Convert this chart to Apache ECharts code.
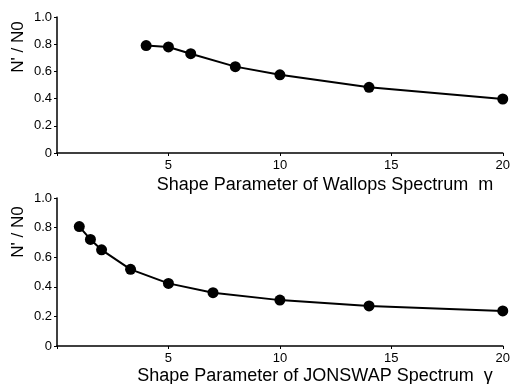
<!DOCTYPE html>
<html>
<head>
<meta charset="utf-8">
<script src="https://cdn.jsdelivr.net/npm/echarts@6/dist/echarts.min.js"></script>
<style>
html, body { margin: 0; padding: 0; background: #fff; }
#main { width: 513px; height: 384px; }
</style>
</head>
<body>
<div id="main"></div>
<script>
// Wallops spectrum shape parameter m
var wallopsM = [4, 5, 6, 8, 10, 14, 20];
var wallopsN = [0.79, 0.78, 0.73, 0.635, 0.575, 0.483, 0.397];
// JONSWAP spectrum peak enhancement gamma
var jonswapGamma = [1, 1.5, 2, 3.3, 5, 7, 10, 14, 20];
var jonswapN = [0.807, 0.72, 0.65, 0.518, 0.423, 0.36, 0.31, 0.271, 0.237];

var xTicks = [0, 5, 10, 15, 20];
var yTicks = [0, 0.2, 0.4, 0.6, 0.8, 1.0];

var font = 'Liberation Sans, Arial, sans-serif';

function pairs(xs, ys) {
	var out = [];
	for (var i = 0; i < xs.length; i++) out.push([xs[i], ys[i]]);
	return out;
}

function xAxisFor(idx) {
	return {
		type: 'value', gridIndex: idx,
		min: xTicks[0], max: xTicks[xTicks.length - 1], interval: 5,
		axisLine: { lineStyle: { color: '#000', width: 1.5 } },
		axisTick: { show: true, length: 3, lineStyle: { color: '#000' } },
		splitLine: { show: false },
		axisLabel: {
			color: '#000', fontFamily: font, fontSize: 13, margin: 6,
			formatter: function(v) { return v === 0 ? '' : String(v); }
		}
	};
}

function yAxisFor(idx) {
	return {
		type: 'value', gridIndex: idx,
		min: yTicks[0], max: yTicks[yTicks.length - 1], interval: 0.2,
		axisLine: { show: true, lineStyle: { color: '#000', width: 1.5 } },
		axisTick: { show: true, length: 3, lineStyle: { color: '#000' } },
		splitLine: { show: false },
		axisLabel: {
			color: '#000', fontFamily: font, fontSize: 13, margin: 5,
			formatter: function(v) { return v === 0 ? '0' : v.toFixed(1); }
		}
	};
}

function lineSeries(idx, data) {
	return {
		type: 'line', xAxisIndex: idx, yAxisIndex: idx,
		data: data,
		symbol: 'circle', symbolSize: 11,
		itemStyle: { color: '#000' },
		lineStyle: { color: '#000', width: 2 },
		animation: false
	};
}

var chart = echarts.init(document.getElementById('main'));

chart.setOption({
	backgroundColor: '#fff',
	animation: false,
	grid: [
		{ left: 57, right: 9, top: 17, height: 136 },
		{ left: 57, right: 9, top: 198, height: 148 }
	],
	xAxis: [xAxisFor(0), xAxisFor(1)],
	yAxis: [yAxisFor(0), yAxisFor(1)],
	series: [
		lineSeries(0, pairs(wallopsM, wallopsN)),
		lineSeries(1, pairs(jonswapGamma, jonswapN))
	],
	graphic: [
		{ type: 'text', x: 325, y: 185, style: { text: 'Shape Parameter of Wallops Spectrum  m', font: '18px ' + font, fill: '#000', textAlign: 'center', textVerticalAlign: 'middle' } },
		{ type: 'text', x: 315, y: 376, style: { text: 'Shape Parameter of JONSWAP Spectrum  \u03b3', font: '18px ' + font, fill: '#000', textAlign: 'center', textVerticalAlign: 'middle' } },
		{ type: 'text', x: 18, y: 47, rotation: Math.PI / 2, style: { text: "N' / N0", font: '17px ' + font, fill: '#000', textAlign: 'center', textVerticalAlign: 'middle' } },
		{ type: 'text', x: 18, y: 232, rotation: Math.PI / 2, style: { text: "N' / N0", font: '17px ' + font, fill: '#000', textAlign: 'center', textVerticalAlign: 'middle' } }
	]
});
</script>
</body>
</html>
